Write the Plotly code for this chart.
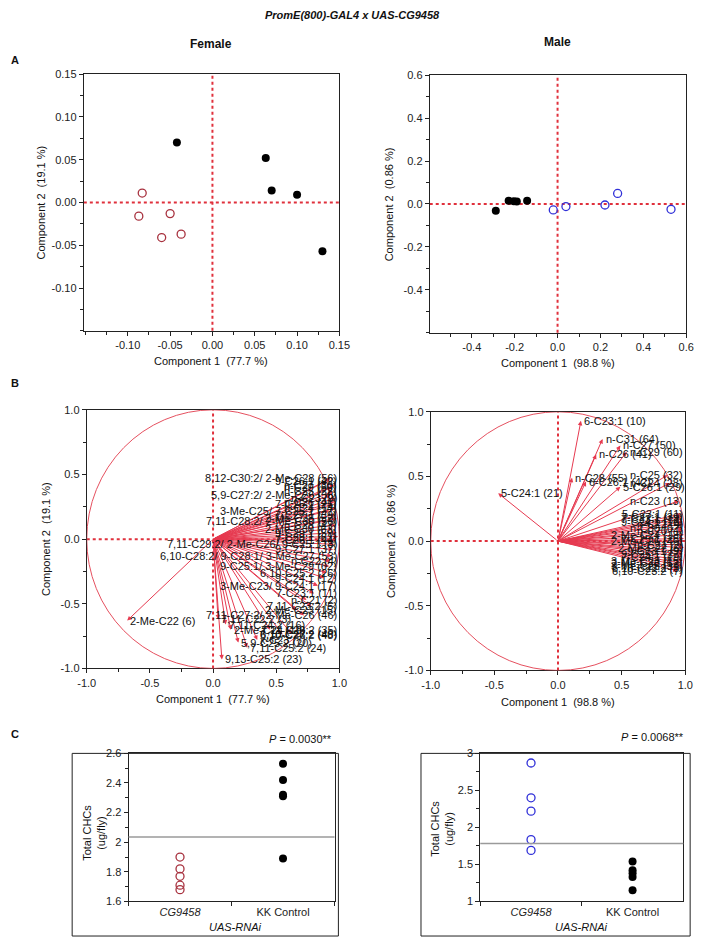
import plotly.graph_objects as go

W, H = 706, 944
FONT = "Liberation Sans, Arial, sans-serif"
RED_DOT = "#E0303C"
ARROW = "#E63A50"
KO_RED = "#A8323F"
KO_BLUE = "#3030D8"

# ---------------- data ----------------
# A: PCA scores
fem_ko_x = [-0.083, -0.087, -0.050, -0.060, -0.037]
fem_ko_y = [0.011, -0.016, -0.013, -0.041, -0.037]
fem_ctrl_x = [-0.042, 0.063, 0.070, 0.100, 0.130]
fem_ctrl_y = [0.070, 0.052, 0.014, 0.009, -0.057]

male_ko_x = [-0.020, 0.039, 0.221, 0.280, 0.529]
male_ko_y = [-0.028, -0.012, -0.005, 0.049, -0.025]
male_ctrl_x = [-0.288, -0.228, -0.204, -0.190, -0.142]
male_ctrl_y = [-0.032, 0.015, 0.012, 0.011, 0.015]

# B: loadings
fem_load_lab = [
    "8,12-C30:2/ 2-Me-C28 (56)", "9-C26:1 (42)", "n-C27 (30)", "n-C29 (50)", "n-C25 (22)",
    "5,9-C27:2/ 2-Me-C26 (38)", "n-C23 (9)", "n-C26 (41)", "7-C25:1 (25)", "n-C24 (14)",
    "3-Me-C25/ 7-C25:1 (27)", "7-C27:1 (39)", "2-Me-C28 (52)", "7,11-C28:2/ 2-Me-C30 (58)",
    "n-C28 (47)", "2-Me-C30 (63)", "9-C29:1 (59)", "7-C29:1 (61)", "7-C26:1 (44)",
    "7,11-C29:2/ 2-Me-C26/ 9-C25:1 (8)", "9-C27:1 (37)", "6,10-C28:2/ 9-C28:1/ 3-Me-C27 (53)",
    "n-C22 (4)", "9-C25:1/ 3-Me-C29 (62)", "6,10-C25:2 (26)", "9-C24:1 (12)",
    "3-Me-C23/ 9-C24:1 (17)", "7-C23:1 (11)", "n-C21 (2)", "7,11-C23:2 (5)", "2-Me-C23 (15)",
    "7,11-C27:2/ 2-Me-C26 (46)", "7,11-C24:2 (16)", "2-Me-C24 (19)", "6,10-C27:2 (40)",
    "6,10-C26:2 (48)", "7,11-C26:2 (35)", "7,11-C25:2 (24)", "9,13-C25:2 (23)", "2-Me-C22 (6)",
    "x-C23 (7)", "5,9-C25:2 (20)", "7,11-C22:2 (3)",
]
fem_load_x = [0.93, 0.90, 0.96, 0.94, 0.95, 0.93, 0.97, 0.96, 0.95, 0.97, 0.92, 0.97, 0.98,
              0.90, 0.97, 0.95, 0.98, 0.99, 0.97, 0.96, 0.95, 0.94, 0.93, 0.92, 0.90, 0.88,
              0.83, 0.80, 0.74, 0.78, 0.66, 0.72, 0.10, 0.14, 0.62, 0.55, 0.45, 0.27, 0.07,
              -0.68, 0.35, 0.20, 0.04]
fem_load_y = [0.47, 0.45, 0.42, 0.40, 0.37, 0.34, 0.32, 0.29, 0.27, 0.24, 0.22, 0.19, 0.16,
              0.14, 0.11, 0.08, 0.05, 0.02, -0.01, -0.04, -0.08, -0.13, -0.17, -0.21, -0.26,
              -0.30, -0.36, -0.42, -0.47, -0.52, -0.55, -0.59, -0.66, -0.70, -0.73, -0.74,
              -0.70, -0.84, -0.93, -0.63, -0.78, -0.80, -0.62]

male_load_lab = [
    "6-C23:1 (10)", "n-C31 (64)", "n-C27 (50)", "n-C29 (60)", "n-C26 (41)", "n-C25 (32)",
    "n-C28 (55)", "6-C26:1 (42)", "n-C24 (28)", "5-C26:1 (29)", "5-C24:1 (21)", "n-C23 (13)",
    "5-C23:1 (11)", "7-C23:1 (12)", "n-C22 (4)", "n-C20 (1)", "2-Me-C24 (18)", "7-C25:1 (25)",
    "2-Me-C26 (46)", "n-C21 (2)", "2-Me-C22 (6)", "9-C23:1 (9)", "9-C25:1 (27)", "7-C24:1 (19)",
    "3-Me-C23 (15)", "2-Me-C28 (52)", "3-Me-C25 (31)", "6,10-C22:2 (3)", "6,10-C23:2 (7)",
    "7-C27:1 (39)", "9-C24:1 (16)", "n-C30 (62)",
]
male_load_x = [0.18, 0.35, 0.49, 0.54, 0.30, 0.86, 0.11, 0.22, 0.88, 0.49, -0.47, 0.95,
               0.97, 0.96, 0.98, 0.98, 0.99, 0.99, 0.99, 0.98, 0.99, 0.98, 0.98, 0.97,
               0.98, 0.96, 0.97, 0.95, 0.94, 0.97, 0.98, 0.98]
male_load_y = [0.93, 0.79, 0.74, 0.69, 0.67, 0.51, 0.49, 0.46, 0.45, 0.42, 0.37, 0.31,
               0.21, 0.17, 0.13, 0.08, 0.05, 0.02, 0.00, -0.03, -0.05, -0.08, -0.10, -0.12,
               -0.15, -0.17, -0.19, -0.21, -0.23, 0.19, 0.15, 0.10]

# C: total CHCs
groups = ["CG9458", "KK Control"]
fem_chc_ko = [1.90, 1.82, 1.77, 1.71, 1.68]
fem_chc_ctrl = [2.53, 2.42, 2.32, 2.31, 1.89]
male_chc_ko = [2.87, 2.40, 2.22, 1.835, 1.69]
male_chc_ctrl = [1.54, 1.42, 1.38, 1.33, 1.15]
fem_p = "0.0030**"
male_p = "0.0068**"


# ---------------- helpers ----------------
def dx(a, b):
    return [a / W, b / W]


def dy(top, bottom):
    return [1 - bottom / H, 1 - top / H]


def px(x):
    return x / W


def py(y):
    return 1 - y / H


def ax_style(**kw):
    base = dict(showline=True, linecolor="#222", linewidth=1, mirror=True,
                ticks="outside", ticklen=4, tickcolor="#222", showgrid=False,
                zeroline=False, tickfont=dict(size=11, color="#222", family=FONT))
    base.update(kw)
    return base


def minor(step):
    return dict(dtick=step, tick0=0, ticklen=3, ticks="outside", tickcolor="#222")


def text_width(s, size=11):
    w = 0.0
    for ch in s:
        if ch in "il.,:;'|":
            w += 0.24
        elif ch in " /":
            w += 0.28
        elif ch in "()-":
            w += 0.333
        elif ch == "M":
            w += 0.833
        elif ch == "C":
            w += 0.722
        else:
            w += 0.556
    return w * size


fig = go.Figure()

# boxes (pixels): left, right, top, bottom
boxA_f = (77, 340, 69, 329)
boxA_m = (433, 697, 70, 331)
boxB_f = (80, 340, 409, 671)
boxB_m = (434, 696, 411, 673)
boxC_f = (123, 335, 757, 907)
boxC_m = (485, 694, 757, 907)

mk = dict(size=8)
open_red = dict(symbol="circle-open", color=KO_RED, line=dict(width=1.3), **mk)
open_blue = dict(symbol="circle-open", color=KO_BLUE, line=dict(width=1.3), **mk)
filled = dict(color="black", **mk)

# ---- A
fig.add_trace(go.Scatter(x=fem_ko_x, y=fem_ko_y, mode="markers", xaxis="x", yaxis="y", marker=open_red))
fig.add_trace(go.Scatter(x=fem_ctrl_x, y=fem_ctrl_y, mode="markers", xaxis="x", yaxis="y", marker=filled))
fig.add_trace(go.Scatter(x=male_ko_x, y=male_ko_y, mode="markers", xaxis="x2", yaxis="y2", marker=open_blue))
fig.add_trace(go.Scatter(x=male_ctrl_x, y=male_ctrl_y, mode="markers", xaxis="x2", yaxis="y2", marker=filled))
# dummies so B axes exist
fig.add_trace(go.Scatter(x=[0], y=[0], mode="markers", xaxis="x3", yaxis="y3", marker=dict(opacity=0)))
fig.add_trace(go.Scatter(x=[0], y=[0], mode="markers", xaxis="x4", yaxis="y4", marker=dict(opacity=0)))
# ---- C
fig.add_trace(go.Scatter(x=[groups[0]] * len(fem_chc_ko), y=fem_chc_ko, mode="markers",
                         xaxis="x5", yaxis="y5", marker=open_red))
fig.add_trace(go.Scatter(x=[groups[1]] * len(fem_chc_ctrl), y=fem_chc_ctrl, mode="markers",
                         xaxis="x5", yaxis="y5", marker=filled))
fig.add_trace(go.Scatter(x=[groups[0]] * len(male_chc_ko), y=male_chc_ko, mode="markers",
                         xaxis="x6", yaxis="y6", marker=open_blue))
fig.add_trace(go.Scatter(x=[groups[1]] * len(male_chc_ctrl), y=male_chc_ctrl, mode="markers",
                         xaxis="x6", yaxis="y6", marker=filled))

shapes = []
ann = []

# reference dotted lines + unit circles
for ax_id in ["", "2", "3", "4"]:
    xr, yr = "x" + ax_id, "y" + ax_id
    shapes.append(dict(type="line", xref=xr + " domain", yref=yr, x0=0, x1=1, y0=0, y1=0,
                       line=dict(color=RED_DOT, width=2, dash="dot"), layer="below"))
    shapes.append(dict(type="line", xref=xr, yref=yr + " domain", x0=0, x1=0, y0=0, y1=1,
                       line=dict(color=RED_DOT, width=2, dash="dot"), layer="below"))
for ax_id in ["3", "4"]:
    shapes.append(dict(type="circle", xref="x" + ax_id, yref="y" + ax_id, x0=-1, x1=1, y0=-1, y1=1,
                       line=dict(color="#E5505F", width=1)))

# loading arrows + labels (labels pushed back inside the frame when they would overflow)
for ax_id, box, labs, xs, ys in [("3", boxB_f, fem_load_lab, fem_load_x, fem_load_y),
                                 ("4", boxB_m, male_load_lab, male_load_x, male_load_y)]:
    unit = (box[1] - box[0]) / 2.0
    for lab, x, y in zip(labs, xs, ys):
        ann.append(dict(x=x, y=y, ax=0, ay=0, xref="x" + ax_id, yref="y" + ax_id,
                        axref="x" + ax_id, ayref="y" + ax_id, text="", showarrow=True,
                        arrowhead=2, arrowsize=0.9, arrowwidth=1, arrowcolor=ARROW))
    for lab, x, y in zip(labs, xs, ys):
        tip_px = box[0] + (x + 1) * unit
        lab_font = dict(size=11, color="#111", family=FONT)
        if tip_px + 2 + text_width(lab) > box[1]:
            ann.append(dict(x=1.0, y=y, xref="x" + ax_id, yref="y" + ax_id, text=lab, showarrow=False,
                            xanchor="right", yanchor="middle", font=lab_font))
        else:
            ann.append(dict(x=x, y=y, xref="x" + ax_id, yref="y" + ax_id, text=lab, showarrow=False,
                            xanchor="left", yanchor="middle", xshift=1, font=lab_font))

# C: grand-mean lines and outer frames
for ax_id, vals in [("5", fem_chc_ko + fem_chc_ctrl), ("6", male_chc_ko + male_chc_ctrl)]:
    m = sum(vals) / len(vals)
    shapes.append(dict(type="line", xref="x" + ax_id + " domain", yref="y" + ax_id, x0=0, x1=1, y0=m, y1=m,
                       line=dict(color="#9a9a9a", width=1.5)))
for l, r in [(65, 339), (424, 701)]:
    shapes.append(dict(type="rect", xref="paper", yref="paper", x0=px(l), x1=px(r), y0=py(942), y1=py(757),
                       line=dict(color="#222", width=1)))


def txt(x, y, s, size=11, angle=0, xanchor="center"):
    ann.append(dict(x=px(x), y=py(y), xref="paper", yref="paper", text=s, showarrow=False,
                    textangle=angle, xanchor=xanchor, yanchor="middle",
                    font=dict(size=size, color="#111", family=FONT)))


txt(353, 9, "<b><i>PromE(800)-GAL4 x UAS-CG9458</i></b>", size=11)
txt(208, 38, "<b>Female</b>", size=12)
txt(565, 36, "<b>Male</b>", size=12)
txt(6, 55, "<b>A</b>", size=11)
txt(6, 382, "<b>B</b>", size=11)
txt(6, 737, "<b>C</b>", size=11)

# axis titles
txt(208, 360, "Component 1  (77.7 %)")
txt(565, 362, "Component 1  (98.8 %)")
txt(33, 199, "Component 2  (19.1 %)", angle=-90)
txt(392, 201, "Component 2  (0.86 %)", angle=-90)
txt(210, 702, "Component 1  (77.7 %)")
txt(565, 705, "Component 1  (98.8 %)")
txt(38, 540, "Component 2  (19.1 %)", angle=-90)
txt(393, 542, "Component 2  (0.86 %)", angle=-90)
txt(88, 838, "Total CHCs<br>(ug/fly)", angle=-90)
txt(446, 833, "Total CHCs<br>(ug/fly)", angle=-90)
txt(233, 933, "<i>UAS-RNAi</i>")
txt(589, 933, "<i>UAS-RNAi</i>")
txt(334, 742, "<i>P</i> = " + fem_p, xanchor="right")
txt(697, 740, "<i>P</i> = " + male_p, xanchor="right")

fem_a_ticks = [-0.10, -0.05, 0.0, 0.05, 0.10, 0.15]
male_a_ticks = [-0.4, -0.2, 0.0, 0.2, 0.4, 0.6]
b_ticks = [-1.0, -0.5, 0.0, 0.5, 1.0]
fem_c_ticks = [1.6, 1.8, 2.0, 2.2, 2.4, 2.6]
male_c_ticks = [1, 1.5, 2, 2.5, 3]

group_text = ["<i>" + groups[0] + "</i>", groups[1]]

fig.update_layout(
    width=W, height=H, margin=dict(l=0, r=0, t=0, b=0),
    paper_bgcolor="white", plot_bgcolor="white", showlegend=False,
    font=dict(family=FONT, size=11, color="#111"),
    xaxis=ax_style(domain=dx(boxA_f[0], boxA_f[1]), range=[-0.152, 0.15], anchor="y",
                   tickvals=fem_a_ticks, ticktext=[f"{v:.2f}" for v in fem_a_ticks], minor=minor(0.025)),
    yaxis=ax_style(domain=dy(boxA_f[2], boxA_f[3]), range=[-0.15, 0.15], anchor="x",
                   tickvals=fem_a_ticks, ticktext=[f"{v:.2f}" for v in fem_a_ticks], minor=minor(0.025)),
    xaxis2=ax_style(domain=dx(boxA_m[0], boxA_m[1]), range=[-0.596, 0.6], anchor="y2",
                    tickvals=male_a_ticks, ticktext=[f"{v:.1f}" for v in male_a_ticks], minor=minor(0.1)),
    yaxis2=ax_style(domain=dy(boxA_m[2], boxA_m[3]), range=[-0.6, 0.6], anchor="x2",
                    tickvals=male_a_ticks, ticktext=[f"{v:.1f}" for v in male_a_ticks], minor=minor(0.1)),
    xaxis3=ax_style(domain=dx(boxB_f[0], boxB_f[1]), range=[-1, 1], anchor="y3",
                    tickvals=b_ticks, ticktext=[f"{v:.1f}" for v in b_ticks], minor=minor(0.25)),
    yaxis3=ax_style(domain=dy(boxB_f[2], boxB_f[3]), range=[-1, 1], anchor="x3",
                    tickvals=b_ticks, ticktext=[f"{v:.1f}" for v in b_ticks], minor=minor(0.25)),
    xaxis4=ax_style(domain=dx(boxB_m[0], boxB_m[1]), range=[-1, 1], anchor="y4",
                    tickvals=b_ticks, ticktext=[f"{v:.1f}" for v in b_ticks], minor=minor(0.25)),
    yaxis4=ax_style(domain=dy(boxB_m[2], boxB_m[3]), range=[-1, 1], anchor="x4",
                    tickvals=b_ticks, ticktext=[f"{v:.1f}" for v in b_ticks], minor=minor(0.25)),
    xaxis5=ax_style(domain=dx(boxC_f[0], boxC_f[1]), anchor="y5", type="category",
                    categoryorder="array", categoryarray=groups, range=[-0.5, 1.5],
                    tickvals=groups, ticktext=group_text, tickson="boundaries"),
    yaxis5=ax_style(domain=dy(boxC_f[2], boxC_f[3]), range=[1.6, 2.6], anchor="x5",
                    tickvals=fem_c_ticks, ticktext=[f"{v:g}" for v in fem_c_ticks], minor=minor(0.1)),
    xaxis6=ax_style(domain=dx(boxC_m[0], boxC_m[1]), anchor="y6", type="category",
                    categoryorder="array", categoryarray=groups, range=[-0.5, 1.5],
                    tickvals=groups, ticktext=group_text, tickson="boundaries"),
    yaxis6=ax_style(domain=dy(boxC_m[2], boxC_m[3]), range=[1, 3], anchor="x6",
                    tickvals=male_c_ticks, ticktext=[f"{v:g}" for v in male_c_ticks], minor=minor(0.25)),
    shapes=shapes,
    annotations=ann,
)

# drop the browser's default 8px body margin so the figure sits at the page origin
fig.write_html("out.html", config={"displayModeBar": False},
               post_script="document.body.style.margin='0px';")
